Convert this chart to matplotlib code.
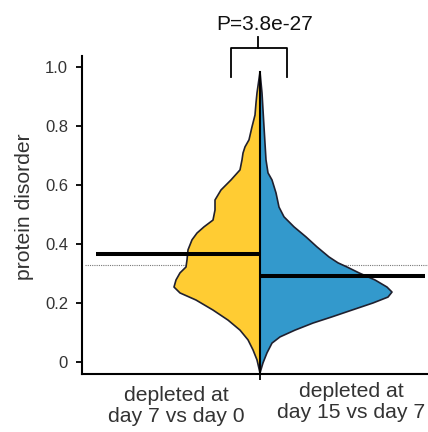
import matplotlib
matplotlib.use("Agg")
import matplotlib.pyplot as plt
import numpy as np

plt.rcParams['font.family'] = ['Liberation Sans', 'DejaVu Sans']

# ---- data ----
categories = ["depleted at\nday 7 vs day 0", "depleted at\nday 15 vs day 7"]

left_y = [0.983, 0.912, 0.878, 0.837, 0.797, 0.753, 0.729, 0.708, 0.685, 0.651,
          0.617, 0.583, 0.549, 0.515, 0.481, 0.458, 0.437, 0.414, 0.380, 0.346,
          0.322, 0.302, 0.278, 0.254, 0.234, 0.210, 0.176, 0.142, 0.108, 0.075,
          0.041, 0.007, -0.037]
left_density = [0.0, 0.03, 0.04, 0.05, 0.08, 0.11, 0.15, 0.17, 0.18, 0.20,
                0.29, 0.39, 0.45, 0.45, 0.47, 0.56, 0.63, 0.68, 0.72, 0.73,
                0.74, 0.80, 0.84, 0.86, 0.80, 0.64, 0.47, 0.32, 0.20, 0.12,
                0.07, 0.03, 0.0]

right_y = [0.983, 0.912, 0.797, 0.685, 0.641, 0.617, 0.573, 0.525, 0.492, 0.458,
           0.424, 0.390, 0.356, 0.336, 0.322, 0.302, 0.278, 0.254, 0.237, 0.220,
           0.200, 0.176, 0.153, 0.132, 0.108, 0.085, 0.064, 0.031, -0.003, -0.037]
right_density = [0.0, 0.02, 0.04, 0.06, 0.08, 0.12, 0.16, 0.19, 0.24, 0.34,
                 0.46, 0.57, 0.69, 0.78, 0.87, 0.99, 1.15, 1.27, 1.32, 1.28,
                 1.13, 0.92, 0.72, 0.53, 0.35, 0.20, 0.12, 0.07, 0.03, 0.0]

medians = [0.367, 0.290]
overall_median = 0.328
p_text = "P=3.8e-27"

yticks = [0, 0.2, 0.4, 0.6, 0.8, 1.0]
yticklabels = ["0", "0.2", "0.4", "0.6", "0.8", "1.0"]

colors = ["#FFCC33", "#3399CC"]

# ---- figure ----
fig = plt.figure(figsize=(4.28, 4.32), dpi=100)
ax = fig.add_axes([82/428, 1-374/432, 346/428, (374-56)/432])
ax.set_xlim(-1.78, 1.68)
ax.set_ylim(-0.0407, 1.037)

# overall reference line (behind violins)
ax.plot([-1.75, 1.68], [overall_median]*2, color="#777777", lw=0.8,
        linestyle=(0, (1, 1)), zorder=1, clip_on=False)

# split violin halves
ly = np.array(left_y); ld = np.array(left_density)
ry = np.array(right_y); rd = np.array(right_density)
ax.fill_betweenx(ly, -ld, 0, facecolor=colors[0], edgecolor="none", zorder=2)
ax.plot(-ld, ly, color="#20202e", lw=1.2, zorder=3)
ax.fill_betweenx(ry, 0, rd, facecolor=colors[1], edgecolor="none", zorder=2)
ax.plot(rd, ry, color="#20202e", lw=1.2, zorder=3)
ax.plot([0, 0], [min(left_y), max(left_y)], color="black", lw=1.5, zorder=4)

# medians
ax.plot([-1.64, 0], [medians[0]]*2, color="black", lw=2.9, zorder=5,
        solid_capstyle="butt")
ax.plot([0, 1.65], [medians[1]]*2, color="black", lw=2.9, zorder=5,
        solid_capstyle="butt", clip_on=False)

# significance bracket
ax.plot([-0.29, -0.29, 0.27, 0.27], [0.966, 1.064, 1.064, 0.966],
        color="black", lw=1.3, clip_on=False)
ax.plot([-0.02, -0.02], [1.064, 1.102], color="black", lw=1.3, clip_on=False)
ax.text(0.05, 1.125, p_text, ha="center", va="baseline", fontsize=15,
        color="#111111", clip_on=False)

# axes style
for s in ["top", "right"]:
    ax.spines[s].set_visible(False)
for s in ["left", "bottom"]:
    ax.spines[s].set_linewidth(1.5)
ax.set_yticks(yticks)
ax.set_yticklabels(yticklabels)
ax.set_xticks([0])
ax.set_xticklabels([""])
ax.tick_params(axis="both", length=4, width=1.3, color="black",
               labelsize=12, labelcolor="#333333")
ax.tick_params(axis="y", pad=6)

# category labels
label_x = [-0.84, 0.91]
label_top = [1-387/432 + 0.002, 1-383/432 + 0.002]
for cat, lx, lt in zip(categories, label_x, label_top):
    xfig = (82 + (lx + 1.78) * 100) / 428
    fig.text(xfig, lt, cat, ha="center", va="top", fontsize=15.2,
             color="#333333", linespacing=1.15)

fig.text(25/428, 1-207/432, "protein disorder", rotation=90, ha="center",
         va="center", fontsize=15.2, color="#333333")

fig.savefig("out.png", dpi=100)
